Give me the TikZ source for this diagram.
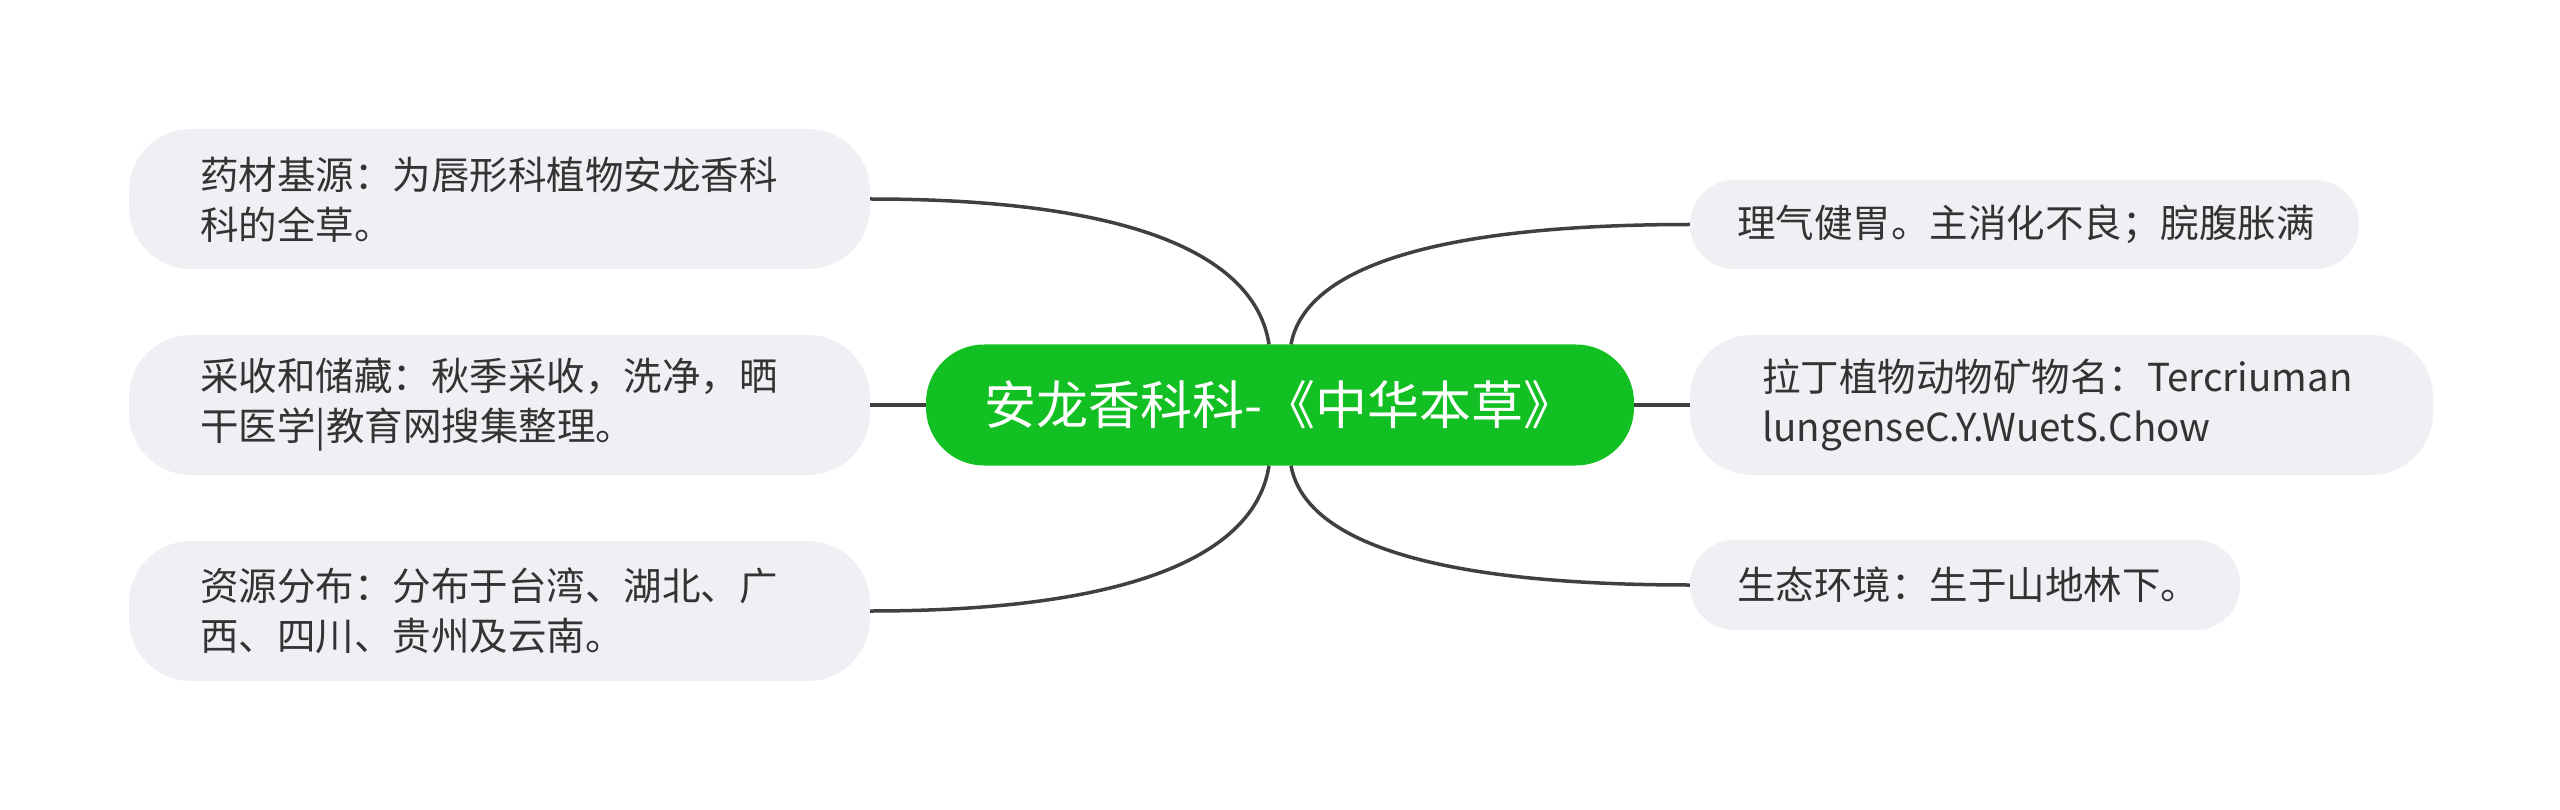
\documentclass[tikz,border=0pt]{standalone}
\usepackage{fontspec}
\setmainfont{Noto Sans CJK SC}
\usetikzlibrary{calc}
\definecolor{boxgray}{RGB}{238,240,243}
\definecolor{maingreen}{RGB}{18,192,35}
\definecolor{linegray}{RGB}{64,64,64}
\definecolor{txt}{RGB}{51,51,51}
\tikzset{
  leaf/.style={draw=none, fill=boxgray, rounded corners=62pt, inner sep=0pt},
  smallleaf/.style={draw=none, fill=boxgray, rounded corners=44pt, inner sep=0pt},
  leaftext/.style={anchor=west, align=left, text=txt, inner sep=0pt, font=\fontsize{38.5}{50}\selectfont},
  conn/.style={draw=linegray, line width=3.5pt},
}
\begin{document}
\begin{tikzpicture}[x=1pt,y=-1pt]
\useasboundingbox (0,0) rectangle (2560,810);
% center
\node[fill=maingreen, rounded corners=58pt, minimum width=708pt, minimum height=121pt, inner sep=0pt,
      text=white, font=\fontsize{52}{60}\selectfont] (C) at (1280,405) {安龙香科科-《中华本草》};
% left boxes
\node[leaf, minimum width=741pt, minimum height=140pt] (L1) at (499.5,199) {};
\node[leaftext] (L1t) at (200,200) {药材基源：为唇形科植物安龙香科\\科的全草。};
\node[leaf, minimum width=741pt, minimum height=140pt] (L2) at (499.5,405) {};
\node[leaftext] (L2t) at (200,405) {采收和储藏：秋季采收，洗净，晒\\干医学|教育网搜集整理。};
\node[leaf, minimum width=741pt, minimum height=140pt] (L3) at (499.5,611) {};
\node[leaftext] (L3t) at (200,611) {资源分布：分布于台湾、湖北、广\\西、四川、贵州及云南。};
% right boxes
\node[smallleaf, minimum width=669pt, minimum height=89pt] (R1) at (2024.5,224.5) {};
\node[leaftext] (R1t) at (1737,224.5) {理气健胃。主消化不良；脘腹胀满};
\node[leaf, minimum width=743pt, minimum height=140pt] (R2) at (2061.5,405) {};
\node[leaftext] (R2t) at (1762,405) {拉丁植物动物矿物名：Tercriuman\\lungenseC.Y.WuetS.Chow};
\node[smallleaf, minimum width=550pt, minimum height=90pt] (R3) at (1965,585) {};
\node[leaftext] (R3t) at (1737,585) {生态环境：生于山地林下。};
% connectors
\draw[conn] (L1.east) .. controls +(260,0) and +(-14,-90) .. ($(C.north)+(-11,0)$);
\draw[conn] (L3.east) .. controls +(260,0) and +(-14,90) .. ($(C.south)+(-11,0)$);
\draw[conn] (R1.west) .. controls +(-260,0) and +(14,-75) .. ($(C.north)+(11,0)$);
\draw[conn] (R3.west) .. controls +(-260,0) and +(14,75) .. ($(C.south)+(11,0)$);
\draw[conn] (L2.east) -- (C.west);
\draw[conn] (C.east) -- (R2.west);
\end{tikzpicture}
\end{document}
